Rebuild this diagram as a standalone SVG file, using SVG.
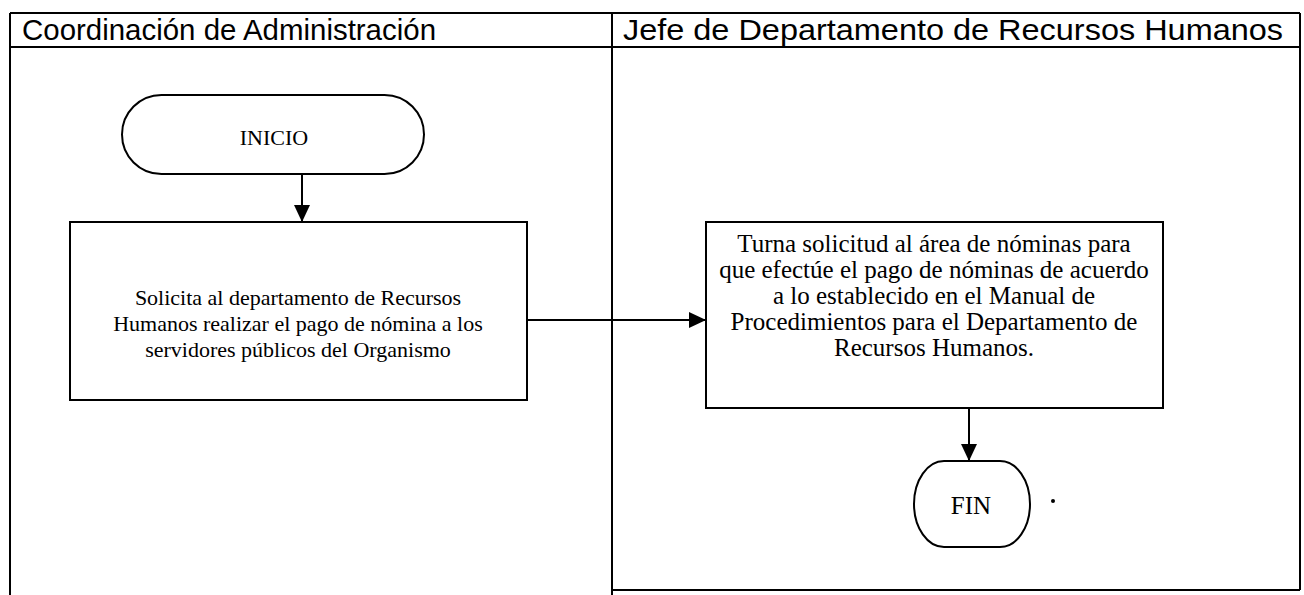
<svg xmlns="http://www.w3.org/2000/svg" width="1304" height="595" viewBox="0 0 1304 595">
<style>
.frame{fill:none;stroke:#000;stroke-width:2}
.shape{fill:#fff;stroke:#000;stroke-width:2}
.hdr{font-family:"Liberation Sans",Arial,sans-serif;font-size:29px;fill:#000}
.t{font-family:"Liberation Serif","Times New Roman",serif;fill:#000;text-anchor:middle}
.t1{font-size:22px}
.t2{font-size:25px}
.conn{fill:none;stroke:#000;stroke-width:2}
</style>
<defs>
<marker id="ahb" viewBox="0 0 10 10" refX="10" refY="5" markerWidth="17" markerHeight="16" markerUnits="userSpaceOnUse" orient="auto" preserveAspectRatio="none"><path d="M0,0 L10,5 L0,10 Z" fill="#000"/></marker>
</defs>
<rect width="1304" height="595" fill="#fff"/>
<g id="lanes">
<line class="frame" x1="10" y1="13" x2="1300" y2="13"/>
<line class="frame" x1="10" y1="47" x2="1300" y2="47"/>
<line class="frame" x1="10" y1="13" x2="10" y2="595"/>
<line class="frame" x1="612" y1="13" x2="612" y2="595"/>
<line class="frame" x1="1300" y1="13" x2="1300" y2="590"/>
<line class="frame" x1="612" y1="590" x2="1300" y2="590"/>
<text class="hdr" x="22" y="40" textLength="414" lengthAdjust="spacingAndGlyphs">Coordinación de Administración</text>
<text class="hdr" x="623" y="40" textLength="660" lengthAdjust="spacingAndGlyphs">Jefe de Departamento de Recursos Humanos</text>
</g>
<g id="connectors">
<line class="conn" x1="302" y1="174" x2="302" y2="222" marker-end="url(#ahb)"/>
<line class="conn" x1="527" y1="320" x2="706" y2="320" marker-end="url(#ahb)"/>
<line class="conn" x1="969" y1="408" x2="969" y2="461" marker-end="url(#ahb)"/>
</g>
<g id="inicio">
<rect class="shape" x="122" y="95" width="302" height="79" rx="39.5" ry="39.5"/>
<text class="t" x="274" y="145" font-size="22">INICIO</text>
</g>
<g id="solicita">
<rect class="shape" x="70" y="222" width="457" height="178"/>
<text class="t t1" x="298" y="305">Solicita al departamento de Recursos</text>
<text class="t t1" x="298" y="331">Humanos realizar el pago de nómina a los</text>
<text class="t t1" x="298" y="357">servidores públicos del Organismo</text>
</g>
<g id="turna">
<rect class="shape" x="706" y="222" width="457" height="186"/>
<text class="t t2" x="934" y="252">Turna solicitud al área de nóminas para</text>
<text class="t t2" x="934" y="278">que efectúe el pago de nóminas de acuerdo</text>
<text class="t t2" x="934" y="304">a lo establecido en el Manual de</text>
<text class="t t2" x="934" y="330">Procedimientos para el Departamento de</text>
<text class="t t2" x="934" y="356">Recursos Humanos.</text>
</g>
<g id="fin">
<rect class="shape" x="914" y="461" width="116" height="86" rx="30" ry="43"/>
<text class="t" x="971" y="514" font-size="25">FIN</text>
</g>
<circle cx="1053" cy="501" r="2" fill="#000"/>
</svg>
